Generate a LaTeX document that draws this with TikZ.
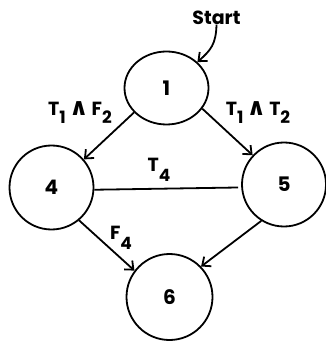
\documentclass[tikz,border=0pt]{standalone}
\usepackage{fontspec}
\setmainfont{Poppins}
\newfontfamily\dvfont{DejaVu Sans}
\usetikzlibrary{shapes.geometric,arrows.meta}
\newcommand\lowsub[1]{\raisebox{-8pt}{\fontsize{17}{17}\selectfont #1}}
\newcommand\wedgesym{{\fontsize{24}{24}\selectfont\dvfont\bfseries ∧}}
\begin{document}
\begin{tikzpicture}[x=1pt,y=-1pt,
  state/.style={draw,circle,line width=1.8pt,minimum size=84pt,inner sep=0pt,font=\fontsize{20}{20}\selectfont\bfseries},
  lbl/.style={inner sep=0pt,font=\fontsize{19}{19}\selectfont\bfseries},
  conn/.style={line width=1.8pt},
  arr/.style={conn,-{Straight Barb[length=7pt,width=12pt,line width=1.8pt]}}]
\useasboundingbox (0,0) rectangle (325,344);
\node[state,ellipse,minimum width=84pt,minimum height=73pt] (n1) at (166.5,88) {1};
\node[state] (n4) at (51.5,187.5) {4};
\node[state] (n5) at (284,184.5) {5};
\node[state,minimum size=86pt] (n6) at (169.5,297) {6};
\node[lbl] (st) at (216.5,17.5) {Start};
\draw[arr] (st.south) .. controls (216,44) and (211,50) .. (n1.40);
\draw[arr] (n1.217) -- (n4.41);
\draw[arr] (n1.330) -- (n5.137);
\draw[conn] (n4.357) -- ([xshift=-3pt]n5.184);
\draw[arr] (n4.310) -- (n6.143);
\draw[arr] (n5.238) -- (n6.44);
\node[lbl] (l14) at (80,113) {T\lowsub{1}\,\wedgesym\,F\lowsub{2}};
\node[lbl] (l15) at (258,113) {T\lowsub{1}\,\wedgesym\,T\lowsub{2}};
\node[lbl] (l45) at (159,170) {T\raisebox{-10pt}{\fontsize{17}{17}\selectfont 4}};
\node[lbl] (l46) at (121,238) {F\raisebox{-10pt}{\fontsize{17}{17}\selectfont 4}};
\end{tikzpicture}
\end{document}
